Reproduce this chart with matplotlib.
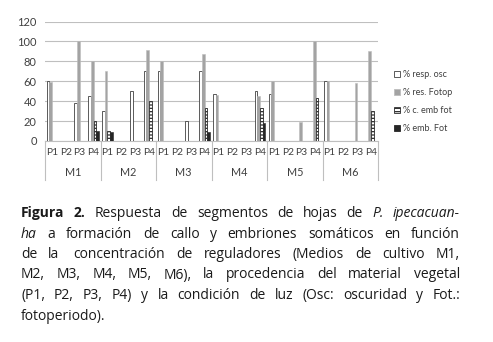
import matplotlib
matplotlib.use("Agg")
import matplotlib.pyplot as plt
import matplotlib.transforms as mtransforms
from matplotlib.patches import Patch
import numpy as np

# data
media = ["M1", "M2", "M3", "M4", "M5", "M6"]
sources = ["P1", "P2", "P3", "P4"]
series_names = ["% resp. osc", "% res. Fotop", "% c. emb fot", "% emb. Fot"]

resp_osc = [60, 0, 38, 45,  30, 0, 50, 70,  70, 0, 20, 70,  47, 0, 0, 50,  47, 0, 0, 0,  60, 0, 0, 0]
res_fotop = [59, 0, 100, 80,  70, 0, 0, 91,  80, 0, 0, 87,  46, 0, 0, 45,  60, 0, 19, 100,  60, 0, 58, 90]
c_emb_fot = [0, 0, 0, 20,  10, 0, 0, 40,  0, 0, 0, 33,  0, 0, 0, 33,  0, 0, 0, 43,  0, 0, 0, 30]
emb_fot = [0, 0, 0, 10,  9, 0, 0, 0,  0, 0, 0, 9,  0, 0, 0, 18,  0, 0, 0, 0,  0, 0, 0, 0]

caption = [
    "**Figura **2. Respuesta de segmentos de hojas de *P. *ipecacuan-",
    "*ha a formación de callo y embriones somáticos en función",
    "de la  concentración de reguladores (Medios de cultivo M1,",
    "M2, M3, M4, M5, M6), la procedencia del material vegetal",
    "(P1, P2, P3, P4) y la condición de luz (Osc: oscuridad y Fot.:",
    "fotoperiodo).",
]

W, H = 493, 342
plt.rcParams["font.family"] = ["Lato", "DejaVu Sans"]
plt.rcParams["hatch.linewidth"] = 0.9
fig = plt.figure(figsize=(W / 100, H / 100), dpi=100)
ax = fig.add_axes([45 / W, 1 - 141 / H, 333 / W, 119.5 / H])

n = len(media) * len(sources)
x = np.arange(n)
bw = 0.19
styles = [
    dict(color="white", edgecolor="#404040", linewidth=0.6),
    dict(color="#a3a3a3", edgecolor="#bdbdbd", linewidth=0.4),
    dict(color="white", edgecolor="#2a2a2a", linewidth=0.6, hatch="-----"),
    dict(color="#262626", edgecolor="#262626", linewidth=0.4),
]
for k, vals in enumerate([resp_osc, res_fotop, c_emb_fot, emb_fot]):
    ax.bar(x + (k - 1.5) * bw, vals, bw, zorder=3, **styles[k])

ax.set_xlim(-0.5, n - 0.5)
ax.set_ylim(0, 120)
ax.set_yticks(range(0, 121, 20))
ax.yaxis.grid(True, color="#bfbfbf", linewidth=0.8)
ax.set_axisbelow(True)
for s in ["top", "right", "left"]:
    ax.spines[s].set_visible(False)
ax.spines["bottom"].set_color("#bfbfbf")
ax.spines["bottom"].set_linewidth(0.8)
ax.tick_params(axis="y", length=0, pad=6, labelsize=8, labelcolor="#404040")
ax.set_xticks(x)
ax.set_xticklabels(sources * len(media))
ax.tick_params(axis="x", length=0, pad=5, labelsize=7.4, labelcolor="#404040")

# second level of the category axis
trans = mtransforms.blended_transform_factory(ax.transData, ax.transAxes)
drop = 39 / 119.5
for g in range(len(media) + 1):
    ax.plot([g * 4 - 0.5] * 2, [0, -drop], transform=trans, color="#bfbfbf",
            linewidth=0.8, clip_on=False)
for g, m in enumerate(media):
    ax.text(g * 4 + 1.5, -32 / 119.5, m, transform=trans, ha="center", va="center",
            fontsize=7.8, color="#404040")

handles = [Patch(facecolor=st["color"], edgecolor=st["edgecolor"], hatch=st.get("hatch"),
                 linewidth=0.6) for st in styles]
fig.legend(handles, series_names, loc="upper left", bbox_to_anchor=(386 / W, 1 - 62 / H),
           frameon=False, fontsize=6.5, handlelength=0.7, handleheight=0.7,
           handletextpad=0.3, labelspacing=1.0, labelcolor="#404040")

# justified caption, word by word
renderer = fig.canvas.get_renderer()
x0, x1 = 21, 460
y = 1 - 217 / H
for i, line in enumerate(caption):
    words = []
    for w in line.split(" "):
        weight, style = "normal", "normal"
        if w.startswith("**"):
            w, weight = w[2:], "bold"
        elif w.startswith("*"):
            w, style = w[1:], "italic"
        words.append(fig.text(0, y, w, fontsize=10, family=["Open Sans", "DejaVu Sans"],
                              weight=weight, style=style, color="#1a1a1a", va="baseline"))
    widths = [t.get_window_extent(renderer).width if t.get_text() else 0 for t in words]
    real = [t for t in words if t.get_text()]
    extra = 3 * (len(words) - len(real))
    if i < len(caption) - 1:
        gap = (x1 - x0 - sum(widths) - extra) / (len(real) - 1)
    else:
        gap = 3.5
    xp = x0
    for t, wd in zip(words, widths):
        if not t.get_text():
            xp += 3  # the double space in the original caption
            continue
        t.set_x(xp / W)
        xp += wd + gap
    y -= 20.5 / H

fig.savefig("out.png", dpi=100)
